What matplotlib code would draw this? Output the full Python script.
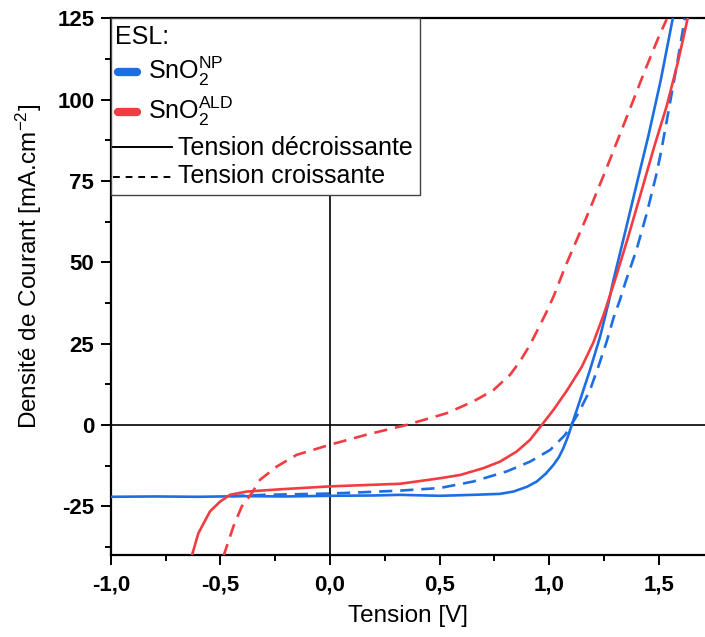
import matplotlib
matplotlib.use("Agg")
import matplotlib.pyplot as plt
from matplotlib.lines import Line2D
from matplotlib.patches import Rectangle
from matplotlib.ticker import MultipleLocator

plt.rcParams['font.family'] = ['Liberation Sans', 'DejaVu Sans']
plt.rcParams['mathtext.default'] = 'regular'

# J-V curves, tension in V, current density in mA.cm-2
# SnO2 NP, decreasing voltage
v_np_rev = [-1.0, -0.8, -0.6, -0.4, -0.2, 0.0, 0.2, 0.32, 0.502, 0.654, 0.776, 0.837,
            0.90, 0.944, 0.985, 1.02, 1.045, 1.065, 1.085, 1.104, 1.142, 1.187, 1.233,
            1.271, 1.294, 1.35, 1.40, 1.454, 1.51, 1.565]
j_np_rev = [-22.1, -22.0, -22.1, -21.9, -22.0, -21.8, -21.7, -21.5, -21.8, -21.5, -21.2, -20.5,
            -19.0, -17.4, -15.0, -12.3, -9.9, -7.2, -3.8, 0.0, 7.7, 16.9, 27.1,
            37.4, 44.5, 60.0, 74.0, 89.0, 106.0, 125.0]
# SnO2 NP, increasing voltage
v_np_fwd = [-0.45, -0.3, -0.15, 0.0, 0.15, 0.32, 0.502, 0.654, 0.807, 0.913, 1.005,
            1.073, 1.134, 1.187, 1.225, 1.263, 1.294, 1.324, 1.347, 1.40, 1.446,
            1.49, 1.513, 1.582, 1.62]
j_np_fwd = [-21.9, -21.5, -21.3, -21.1, -20.7, -20.2, -19.4, -17.4, -14.3, -11.3, -7.7,
            -3.1, 3.6, 10.7, 17.9, 25.6, 32.8, 38.5, 43.5, 54.0, 65.0,
            77.0, 84.5, 110.0, 125.0]
# SnO2 ALD, decreasing voltage
v_ald_rev = [-0.632, -0.601, -0.548, -0.502, -0.457, -0.38, -0.228, 0.0, 0.16, 0.32,
             0.502, 0.594, 0.70, 0.776, 0.852, 0.913, 0.967, 1.02, 1.081, 1.149,
             1.202, 1.248, 1.301, 1.36, 1.416, 1.48, 1.537, 1.59, 1.632]
j_ald_rev = [-40.5, -33.3, -26.6, -23.6, -21.5, -20.5, -19.8, -18.9, -18.5, -18.1,
             -16.4, -15.4, -13.3, -11.3, -8.2, -4.6, 0.0, 4.6, 10.5, 17.8,
             25.3, 33.6, 44.5, 57.5, 70.5, 85.5, 98.0, 112.0, 124.7]
# SnO2 ALD, increasing voltage
v_ald_fwd = [-0.487, -0.441, -0.403, -0.357, -0.32, -0.243, -0.152, 0.0, 0.167, 0.35,
             0.533, 0.654, 0.746, 0.822, 0.868, 0.913, 0.959, 0.989, 1.02, 1.05,
             1.073, 1.172, 1.263, 1.355, 1.438, 1.499, 1.537]
j_ald_fwd = [-40.5, -31.2, -25.1, -21.0, -16.9, -12.8, -9.2, -6.1, -3.0, 0.0,
             3.6, 7.2, 10.7, 15.4, 19.6, 24.6, 30.7, 34.8, 39.4, 44.5,
             48.5, 64.0, 79.0, 94.7, 109.0, 119.0, 124.7]

x_ticks = [-1.0, -0.5, 0.0, 0.5, 1.0, 1.5]
x_tick_labels = ['-1,0', '-0,5', '0,0', '0,5', '1,0', '1,5']
y_ticks = [-25, 0, 25, 50, 75, 100, 125]
y_tick_labels = ['-25', '0', '25', '50', '75', '100', '125']

BLUE = '#1c6ee3'
RED = '#f23c42'
DASH = (0, (5, 3))

fig = plt.figure(figsize=(7.05, 6.37), dpi=100)
ax = fig.add_axes([0.1574, 0.1287, 0.8426, 0.8426])

ax.axhline(0, color='black', lw=1.2, zorder=2)
ax.axvline(0, color='black', lw=1.2, zorder=2)

ax.plot(v_np_rev, j_np_rev, color=BLUE, lw=1.9, zorder=3)
ax.plot(v_np_fwd, j_np_fwd, color=BLUE, lw=1.9, ls=DASH, zorder=3)
ax.plot(v_ald_rev, j_ald_rev, color=RED, lw=1.9, zorder=3)
ax.plot(v_ald_fwd, j_ald_fwd, color=RED, lw=1.9, ls=DASH, zorder=3)

ax.set_xlim(-1.0, 1.712)
ax.set_ylim(-40, 125)
ax.set_xticks(x_ticks)
ax.set_xticklabels(x_tick_labels)
ax.set_yticks(y_ticks)
ax.set_yticklabels(y_tick_labels)
ax.xaxis.set_minor_locator(MultipleLocator(0.25))
ax.yaxis.set_minor_locator(MultipleLocator(12.5))
ax.tick_params(which='major', direction='out', length=7, width=1.4, labelsize=16, pad=7)
ax.tick_params(which='minor', direction='out', length=4, width=1.4)
for lab in ax.get_xticklabels() + ax.get_yticklabels():
    lab.set_fontweight('bold')
ax.tick_params(axis='y', pad=5)

ax.spines['right'].set_visible(False)
for s in ['left', 'bottom', 'top']:
    ax.spines[s].set_linewidth(1.6)

ax.set_xlabel('Tension [V]', fontsize=17.5, labelpad=7)
ax.set_ylabel('Densité de Courant [mA.cm$^{-2}$]', fontsize=17.5)
ax.yaxis.set_label_coords(-0.113, 0.538)

# legend drawn by hand to mimic the Origin layout
t = ax.transAxes
ax.add_patch(Rectangle((0.0, 0.671), 0.52, 0.329, transform=t, facecolor='white',
                       edgecolor='#444444', lw=1.0, zorder=6))
fs = 18
ax.text(0.0067, 0.9516, 'ESL:', transform=t, fontsize=fs, va='baseline', zorder=7)
ax.add_line(Line2D([0.012, 0.043], [0.9005, 0.9005], transform=t, color=BLUE, lw=6,
                   solid_capstyle='round', zorder=7))
ax.text(0.0623, 0.887, 'SnO$_{2}^{NP}$', transform=t, fontsize=fs, va='baseline', zorder=7)
ax.add_line(Line2D([0.012, 0.043], [0.8247, 0.8247], transform=t, color=RED, lw=6,
                   solid_capstyle='round', zorder=7))
ax.text(0.0623, 0.8128, 'SnO$_{2}^{ALD}$', transform=t, fontsize=fs, va='baseline', zorder=7)
ax.add_line(Line2D([0.0034, 0.1027], [0.7608, 0.7608], transform=t, color='black', lw=1.4,
                   zorder=7))
ax.text(0.1128, 0.7453, 'Tension décroissante', transform=t, fontsize=fs, va='baseline', zorder=7)
ax.add_line(Line2D([0.0034, 0.1027], [0.7049, 0.7049], transform=t, color='black', lw=1.4,
                   ls=(0, (3.5, 3)), zorder=7))
ax.text(0.1128, 0.6926, 'Tension croissante', transform=t, fontsize=fs, va='baseline', zorder=7)

fig.savefig('out.png', dpi=100)
